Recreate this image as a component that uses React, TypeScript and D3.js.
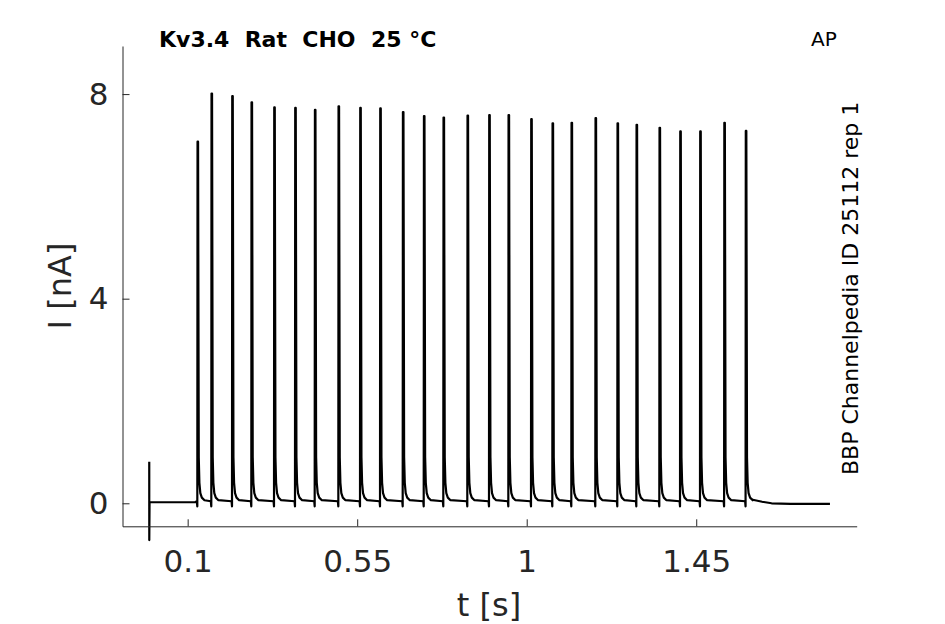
import { useEffect, useRef } from 'react';
import * as d3 from 'd3';

// tiempos y picos de cada espiga
const spikeTimes = [
  0.1256, 0.1627, 0.2177, 0.2689, 0.3292, 0.3849, 0.4372, 0.4999, 0.5575,
  0.6106, 0.6708, 0.7266, 0.7786, 0.8423, 0.8999, 0.9512, 1.0114, 1.068,
  1.1184, 1.1821, 1.2405, 1.291, 1.352, 1.407, 1.46, 1.524, 1.581,
];
const spikePeaks = [
  7.07, 8.01, 7.96, 7.84, 7.74, 7.73, 7.69, 7.76, 7.73, 7.72, 7.65, 7.57,
  7.54, 7.58, 7.59, 7.59, 7.51, 7.43, 7.44, 7.53, 7.43, 7.4, 7.34, 7.27,
  7.27, 7.44, 7.28,
];

// forma de una espiga: desplazamiento (s) y corriente (nA), el pico va aparte
const shapeBeforeDt = [-0.0012, 0];
const shapeBeforeI = [0.04, -0.06];
const peakDt = [0.0006, 0.002];
const shapeAfterDt = [0.0038, 0.0055, 0.008, 0.012, 0.019];
const shapeAfterI = [0.9, 0.4, 0.2, 0.11, 0.06];

// artefacto del estimulo, linea base y cola final
const artifactT = [-0.002, -0.0019, -0.0012, 0.12];
const artifactI = [0.81, -0.72, 0.02, 0.02];
const tailT = [1.6, 1.625, 1.65, 1.7, 1.805];
const tailI = [0.07, 0.03, 0.0, -0.01, -0.01];

const xTicks = [0.1, 0.55, 1, 1.45];
const yTicks = [0, 4, 8];

const title = 'Kv3.4  Rat  CHO  25 °C';
const protocol = 'AP';
const sourceLabel = 'BBP Channelpedia ID 25112 rep 1';

type Pt = [number, number];

const CurrentTrace = () => {
  const svgRef = useRef<SVGSVGElement>(null);

  useEffect(() => {
    if (!svgRef.current) return;
    d3.select(svgRef.current).selectAll('*').remove();

    const width = 945;
    const height = 624;
    const font = 'DejaVu Sans';
    const ink = '#262626';

    const svg = d3.select(svgRef.current)
      .attr('width', width)
      .attr('height', height);

    const x = d3.scaleLinear().domain([-0.073, 1.876]).range([122.5, 856.7]);
    const y = d3.scaleLinear().domain([-0.45, 8.94]).range([526.3, 46]);

    // armar la traza
    const pts: Pt[] = artifactT.map((t, i) => [t, artifactI[i]] as Pt);
    spikeTimes.forEach((t0, k) => {
      shapeBeforeDt.forEach((dt, i) => pts.push([t0 + dt, shapeBeforeI[i]]));
      peakDt.forEach(dt => pts.push([t0 + dt, spikePeaks[k]]));
      shapeAfterDt.forEach((dt, i) => pts.push([t0 + dt, shapeAfterI[i]]));
    });
    tailT.forEach((t, i) => pts.push([t, tailI[i]]));

    const line = d3.line<Pt>()
      .x(d => x(d[0]))
      .y(d => y(d[1]));

    svg.append('path')
      .datum(pts)
      .attr('fill', 'none')
      .attr('stroke', '#000')
      .attr('stroke-width', 2.2)
      .attr('stroke-linejoin', 'round')
      .attr('d', line);

    // ejes
    const xAxis = d3.axisBottom(x)
      .tickValues(xTicks)
      .tickFormat(d => String(d))
      .tickSizeInner(-7)
      .tickSizeOuter(0)
      .tickPadding(24);

    const yAxis = d3.axisLeft(y)
      .tickValues(yTicks)
      .tickFormat(d => String(d))
      .tickSizeInner(-7)
      .tickSizeOuter(0)
      .tickPadding(14);

    const gx = svg.append('g')
      .attr('transform', `translate(0,${y.range()[0]})`)
      .call(xAxis);
    const gy = svg.append('g')
      .attr('transform', `translate(${x.range()[0]},0)`)
      .call(yAxis);

    [gx, gy].forEach(g => {
      g.selectAll('path, line').attr('stroke', ink).attr('stroke-width', 1);
      g.selectAll('text')
        .attr('fill', ink)
        .attr('font-family', font)
        .attr('font-size', 31);
    });

    // etiquetas
    svg.append('text')
      .attr('x', 489)
      .attr('y', 616)
      .attr('text-anchor', 'middle')
      .attr('font-family', font)
      .attr('font-size', 32)
      .attr('fill', ink)
      .text('t [s]');

    svg.append('text')
      .attr('transform', 'translate(71,286) rotate(-90)')
      .attr('text-anchor', 'middle')
      .attr('font-family', font)
      .attr('font-size', 32)
      .attr('fill', ink)
      .text('I [nA]');

    svg.append('text')
      .attr('x', 159)
      .attr('y', 47)
      .attr('font-family', font)
      .attr('font-weight', 'bold')
      .attr('font-size', 22)
      .attr('fill', '#000')
      .style('white-space', 'pre')
      .text(title);

    svg.append('text')
      .attr('x', 811)
      .attr('y', 46)
      .attr('font-family', font)
      .attr('font-size', 20)
      .attr('fill', '#000')
      .text(protocol);

    svg.append('text')
      .attr('transform', 'translate(858,475) rotate(-90)')
      .attr('font-family', font)
      .attr('font-size', 22)
      .attr('fill', '#000')
      .text(sourceLabel);
  }, []);

  return <svg ref={svgRef} style={{ position: 'absolute', left: 0, top: 0 }} />;
};

export default function App() {
  return <CurrentTrace />;
}
